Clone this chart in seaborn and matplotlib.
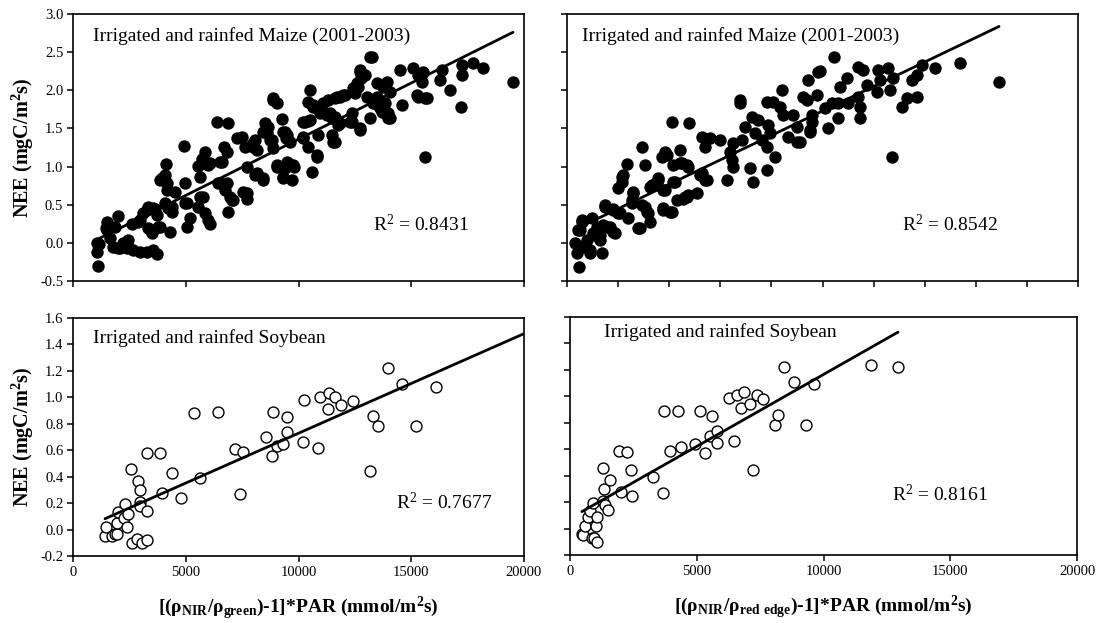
import numpy as np
import pandas as pd
import matplotlib
matplotlib.use("Agg")
import matplotlib.pyplot as plt
import seaborn as sns
from matplotlib.ticker import MultipleLocator, FormatStrFormatter

# ---------------- data ----------------
maize_green_x = [1110,1060,1150,1060,1510,1510,1460,1640,2000,1860,1770,2000,2080,2220,2390,2440,2390,2660,2970,3280,
                 3550,3720,2620,2880,2970,3100,3280,3330,3550,3640,3720,3330,3500,3770,3860,4080,4300,4210,4390,3860,
                 3950,4080,4120,4170,4170,4390,4520,4970,4920,5050,4970,5050,5190,5540,5720,5850,6080,5990,5630,5630,
                 5760,5540,5850,5990,6080,6390,6870,6520,6430,6520,6610,6700,6830,6740,6830,6960,7050,6870,7100,7270,
                 7490,7630,7720,7540,7720,7720,7980,7980,8070,8160,8160,8070,8430,8430,8430,8510,8600,8650,8740,8830,
                 8870,8870,8870,9050,9270,9310,9400,9490,9450,9050,9050,9310,9310,9400,9490,9530,9710,9760,9800,9620,
                 9490,10200,10290,10510,10200,10200,10420,10420,10420,10510,10640,10640,10950,10950,10860,10820,10820,10600,11090,11310,
                 11260,11400,11490,11620,11620,11840,11710,11750,11840,11490,11530,11620,12060,11970,12280,12370,12370,12510,12640,12420,
                 12590,12730,12770,12730,12950,12730,12730,13170,13260,13170,13300,13300,13040,13480,13520,13610,13700,13480,13750,13830,
                 13920,13970,13970,14060,14060,14500,14590,15080,15300,15480,15520,15300,15260,15700,15610,15480,15610,16270,16360,16720,
                 17250,17250,17210,17740,18180,19510]
maize_green_y = [-0.30,-0.12,-0.02,0.00,0.27,0.17,0.20,0.06,0.35,0.21,-0.05,-0.07,-0.07,0.00,0.00,0.04,-0.07,-0.09,-0.12,-0.12,
                 -0.10,-0.14,0.25,0.27,0.30,0.39,0.43,0.47,0.46,0.45,0.37,0.19,0.13,0.21,0.21,0.52,0.14,0.46,0.40,0.82,
                 0.85,0.89,1.03,0.69,0.78,0.47,0.67,0.78,1.27,0.52,0.52,0.21,0.33,1.01,1.10,1.19,1.05,1.02,0.86,0.60,
                 0.60,0.47,0.39,0.30,0.25,1.58,1.57,0.78,0.78,1.06,1.06,1.26,1.19,0.69,0.78,0.60,0.56,0.41,0.56,1.37,
                 1.39,1.26,1.00,0.67,0.65,0.58,1.31,1.26,1.35,1.22,0.92,0.89,0.82,0.85,1.45,1.57,1.44,1.52,1.35,1.35,
                 1.24,1.87,1.90,1.83,1.62,1.45,1.45,1.37,1.38,1.00,1.02,0.85,0.86,0.98,1.06,1.05,0.82,1.02,1.00,1.32,
                 1.41,1.58,1.58,1.61,1.37,1.39,1.26,1.60,1.85,2.00,1.78,1.81,1.70,1.74,1.41,1.15,1.13,0.93,1.83,1.87,
                 1.68,1.70,1.64,1.65,1.90,1.91,1.91,1.55,1.57,1.41,1.32,1.32,1.94,1.94,1.58,1.70,1.58,1.96,2.04,2.03,
                 2.10,2.24,2.16,2.27,2.20,1.48,1.51,2.44,2.44,1.64,1.87,1.83,1.91,1.91,1.81,1.77,1.72,2.10,2.04,1.83,
                 2.11,1.70,1.64,1.64,1.98,2.27,1.81,2.29,2.20,2.22,2.24,1.91,1.94,1.90,1.90,2.11,1.13,2.14,2.27,2.00,
                 2.33,2.20,1.78,2.36,2.29,2.11]

maize_rededge_x = [470,390,310,430,510,590,590,630,700,780,900,900,980,1020,1100,1170,1290,1290,1370,1410,
                   1490,1490,1570,1680,1800,1800,1880,1800,2000,2070,2000,2150,2150,2190,2350,2390,2540,2540,2580,2580,
                   2780,2860,2940,3050,3050,2940,3130,3170,3250,3250,3330,3560,3560,3720,3840,3920,3760,3840,3760,3760,
                   4030,4110,4110,4150,4150,4230,4310,4420,4420,4500,4540,4620,4700,4740,4740,4700,4770,5090,5210,5280,
                   5280,5400,5400,5480,5600,5990,6260,6380,6460,6500,6500,6770,6770,6850,6970,7160,7240,7280,7360,7480,
                   7630,7830,7830,7870,7950,8140,7830,8060,8420,8340,8460,8650,8850,9000,9000,9120,9240,9390,9430,9510,
                   9510,9590,9780,9820,9590,9900,10450,10220,10100,10370,10610,10610,10680,10960,11000,11390,11590,11390,11470,11470,
                   11740,12130,12170,12250,12560,12640,12760,12720,13110,13310,13500,13700,13700,13890,14400,15380,16910]
maize_rededge_y = [-0.32,-0.13,0.00,0.17,0.17,0.27,0.30,-0.05,-0.03,0.04,-0.13,-0.09,0.33,0.13,0.10,0.21,0.10,0.04,-0.13,0.23,
                   0.47,0.50,0.21,0.21,0.45,0.43,0.13,0.14,0.39,0.39,0.72,0.80,0.86,0.89,1.03,0.33,0.56,0.52,0.65,0.67,
                   0.19,0.19,1.26,1.02,0.47,0.50,0.41,0.39,0.27,0.73,0.76,0.82,0.85,1.13,1.19,1.15,0.69,0.69,0.43,0.46,
                   0.40,0.40,1.58,1.02,0.80,0.80,0.56,1.22,1.05,1.05,0.58,0.60,0.60,0.63,1.00,1.02,1.57,0.65,0.89,0.92,
                   1.39,1.26,0.82,0.82,1.37,1.35,0.82,1.19,1.09,1.00,1.31,1.87,1.83,1.35,1.52,0.98,1.65,0.80,1.44,1.61,
                   1.35,0.96,1.26,1.55,1.44,1.13,1.85,1.85,2.00,1.78,1.68,1.39,1.68,1.52,1.32,1.32,1.91,1.87,2.14,1.48,
                   1.45,1.58,1.94,2.24,1.68,2.25,2.44,1.50,1.77,1.83,1.64,1.83,2.04,2.16,1.83,2.31,2.27,1.91,1.78,1.64,
                   2.07,1.98,2.27,2.14,2.29,2.00,2.16,1.13,1.78,1.90,2.14,2.20,1.91,2.33,2.29,2.36,2.11]

soy_green_x = [1420,1460,1730,1860,1950,1950,2000,2260,2310,2390,2440,2570,2620,2840,2880,2970,2970,2970,3060,3280,
               3280,3280,3860,3950,4390,4790,5370,5630,6430,7180,7410,7540,8560,8830,8870,9050,9310,9490,9490,10200,
               10240,10860,10950,11310,11350,11620,11880,12420,13170,13300,13520,13970,14590,15210,16100]
soy_green_y = [-0.05,0.02,-0.05,-0.03,-0.03,0.05,0.13,0.09,0.19,0.02,0.12,0.46,-0.10,-0.07,0.37,0.30,0.21,0.18,-0.10,-0.08,
               0.58,0.14,0.58,0.28,0.43,0.24,0.88,0.39,0.89,0.61,0.27,0.59,0.70,0.56,0.89,0.63,0.65,0.85,0.74,0.66,
               0.98,0.62,1.00,0.91,1.03,1.00,0.94,0.97,0.44,0.86,0.78,1.22,1.10,0.78,1.08]

soy_rededge_x = [470,510,590,710,790,870,910,950,1030,1070,1070,1300,1340,1300,1380,1500,1580,1930,2010,2250,
                 2410,2450,3270,3670,3710,3950,4260,4380,4930,5130,5330,5520,5600,5800,5800,6270,6470,6590,6740,6860,
                 7100,7220,7380,7610,8090,8210,8440,8840,9310,9630,11870,12940]
soy_rededge_y = [-0.04,-0.05,0.02,0.09,0.13,-0.07,0.19,-0.07,0.02,-0.10,0.09,0.46,0.30,0.21,0.18,0.14,0.37,0.59,0.28,0.58,
                 0.44,0.25,0.39,0.27,0.89,0.59,0.89,0.62,0.64,0.89,0.57,0.70,0.85,0.74,0.65,0.99,0.66,1.01,0.91,1.03,
                 0.94,0.44,1.01,0.98,0.78,0.86,1.22,1.11,0.78,1.09,1.24,1.22]

panel_titles = ["Irrigated and rainfed Maize (2001-2003)", "Irrigated and rainfed Maize (2001-2003)",
                "Irrigated and rainfed Soybean", "Irrigated and rainfed Soybean"]
r2_labels = ["R$^2$ = 0.8431", "R$^2$ = 0.8542", "R$^2$ = 0.7677", "R$^2$ = 0.8161"]
ylabel_text = "NEE (mgC/m$^2$s)"
xlabel_green = "[(ρ$_{NIR}$/ρ$_{green}$)-1]*PAR (mmol/m$^2$s)"
xlabel_rededge = "[(ρ$_{NIR}$/ρ$_{red\\ edge}$)-1]*PAR (mmol/m$^2$s)"

# ---------------- style ----------------
sns.set_theme(style="white")
plt.rcParams["font.family"] = ["Liberation Serif", "DejaVu Serif"]
plt.rcParams["mathtext.default"] = "regular"

W, H = 1096, 623
fig = plt.figure(figsize=(W / 100, H / 100), dpi=100)


def add_ax(x0, x1, y0, y1):
    return fig.add_axes([x0 / W, 1 - y1 / H, (x1 - x0) / W, (y1 - y0) / H])


ax_tl = add_ax(73, 524, 14, 281)
ax_tr = add_ax(567, 1078, 14, 281)
ax_bl = add_ax(73, 524, 318, 556)
ax_br = add_ax(570, 1077, 317, 555)

panels = [
    dict(ax=ax_tl, x=maize_green_x, y=maize_green_y, filled=True, xend=None),
    dict(ax=ax_tr, x=maize_rededge_x, y=maize_rededge_y, filled=True, xend=None),
    dict(ax=ax_bl, x=soy_green_x, y=soy_green_y, filled=False, xend=20000),
    dict(ax=ax_br, x=soy_rededge_x, y=soy_rededge_y, filled=False, xend=None),
]

title_pos = [(0.044, 0.918), (0.03, 0.918), (0.044, 0.916), (0.067, 0.935)]
r2_pos = [(0.665, 0.21), (0.656, 0.21), (0.716, 0.223), (0.635, 0.256)]

for i, p in enumerate(panels):
    ax = p["ax"]
    x = np.array(p["x"], dtype=float)
    y = np.array(p["y"], dtype=float)
    df = pd.DataFrame({"x": x, "y": y})
    if p["filled"]:
        sns.scatterplot(data=df, x="x", y="y", ax=ax, color="black", s=80,
                        edgecolor="black", linewidth=0, zorder=2)
    else:
        sns.scatterplot(data=df, x="x", y="y", ax=ax, color="white", s=62,
                        edgecolor="black", linewidth=1.0, zorder=2)
    k, b = np.polyfit(x, y, 1)
    xe = p["xend"] if p["xend"] is not None else x.max()
    xs = np.array([x.min(), xe])
    sns.lineplot(x=xs, y=k * xs + b, ax=ax, color="black", linewidth=2.0, zorder=3)

    ax.set_xlim(0, 20000)
    if i < 2:
        ax.set_ylim(-0.5, 3.0)
        ax.yaxis.set_major_locator(MultipleLocator(0.5))
    else:
        ax.set_ylim(-0.2, 1.6)
        ax.yaxis.set_major_locator(MultipleLocator(0.2))
    ax.yaxis.set_major_formatter(FormatStrFormatter("%.1f"))
    ax.xaxis.set_major_locator(MultipleLocator(2000 if i == 1 else 5000))
    ax.xaxis.set_major_formatter(FormatStrFormatter("%d"))

    for s in ax.spines.values():
        s.set_color("black")
        s.set_linewidth(1.2)
    ax.tick_params(axis="both", which="both", bottom=True, left=True, direction="out",
                   length=4, width=1.1, colors="black", labelsize=10.5, pad=3)
    if i in (0, 1):
        ax.tick_params(axis="x", labelbottom=False)
    if i in (1, 3):
        ax.tick_params(axis="y", labelleft=False)
    ax.set_xlabel("")
    ax.set_ylabel("")

    ax.text(title_pos[i][0], title_pos[i][1], panel_titles[i], transform=ax.transAxes,
            fontsize=14, ha="left", va="center", color="black")
    ax.text(r2_pos[i][0], r2_pos[i][1], r2_labels[i], transform=ax.transAxes,
            fontsize=14, ha="left", va="center", color="black")

for ax in (ax_tl, ax_bl):
    ax.set_ylabel(ylabel_text, fontsize=14.5, fontweight="bold", color="black")
    ax.yaxis.set_label_coords(-0.082, 0.5)

ax_bl.set_xlabel(xlabel_green, fontsize=14, fontweight="bold", color="black", labelpad=12)
ax_br.set_xlabel(xlabel_rededge, fontsize=14, fontweight="bold", color="black", labelpad=12)

fig.savefig("out.png", dpi=100, facecolor="white")
